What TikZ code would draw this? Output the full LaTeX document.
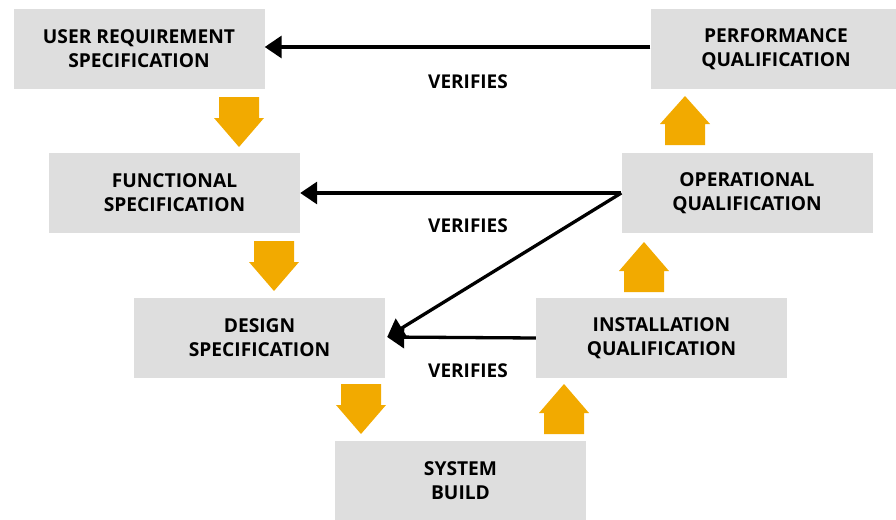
\documentclass[tikz,border=0pt]{standalone}
\usepackage{fontspec}
\setsansfont{Open Sans}
\usepackage{xcolor}
\usetikzlibrary{arrows.meta}

\definecolor{boxgray}{RGB}{222,222,222}
\definecolor{blockorange}{RGB}{242,170,0}

\tikzset{
  stage/.style={fill=boxgray, minimum width=251pt, minimum height=80pt,
    align=center, font=\sffamily\bfseries\fontsize{19.2}{24}\selectfont},
  verify/.style={line width=3.3pt, -{Triangle[length=17pt,width=22pt]}},
  vlabel/.style={font=\sffamily\bfseries\fontsize{19}{22}\selectfont}
}

\begin{document}
\begin{tikzpicture}[x=1pt,y=-1pt]
    \useasboundingbox (0,0) rectangle (896,519);
    % left leg
    \node[stage] (urs) at (139,49) {USER REQUIREMENT\\SPECIFICATION};
    \node[stage] (fs) at (174.5,193) {FUNCTIONAL\\SPECIFICATION};
    \node[stage] (ds) at (259.5,338) {DESIGN\\SPECIFICATION};
    \node[stage] (sb) at (460.5,481) {SYSTEM\\BUILD};
    % right leg
    \node[stage] (iq) at (661.5,338) {INSTALLATION\\QUALIFICATION};
    \node[stage] (oq) at (747,193) {OPERATIONAL\\QUALIFICATION};
    \node[stage] (pq) at (776,49) {PERFORMANCE\\QUALIFICATION};

    \draw[verify] ([yshift=2pt]pq.west) -- ([yshift=2pt]urs.east);
    \draw[verify] (oq.west) -- (fs.east);
    \draw[verify] (oq.west) -- ([xshift=2pt,yshift=1pt]ds.east);
    \draw[verify] (iq.west) -- ([xshift=2pt,yshift=1pt]ds.east);
    \node[vlabel] (v1) at (468,82) {VERIFIES};
    \node[vlabel] (v2) at (468,226) {VERIFIES};
    \node[vlabel] (v3) at (468,371) {VERIFIES};

    \begin{scope}[blockorange]
      % down arrows
      \fill (219,97) -- (259,97) -- (259,118) -- (264,118) -- (239,147) -- (214,118) -- (219,118) -- cycle;
      \fill (254,241) -- (294,241) -- (294,262) -- (299,262) -- (274,291) -- (249,262) -- (254,262) -- cycle;
      \fill (341,384) -- (381,384) -- (381,405) -- (386,405) -- (361,434) -- (336,405) -- (341,405) -- cycle;
      % up arrows
      \fill (544,434) -- (584,434) -- (584,413) -- (589,413) -- (564,384) -- (539,413) -- (544,413) -- cycle;
      \fill (624,292) -- (664,292) -- (664,271) -- (669,271) -- (644,242) -- (619,271) -- (624,271) -- cycle;
      \fill (665,145) -- (705,145) -- (705,124) -- (710,124) -- (685,96) -- (660,124) -- (665,124) -- cycle;
    \end{scope}
  \end{tikzpicture}
\end{document}
